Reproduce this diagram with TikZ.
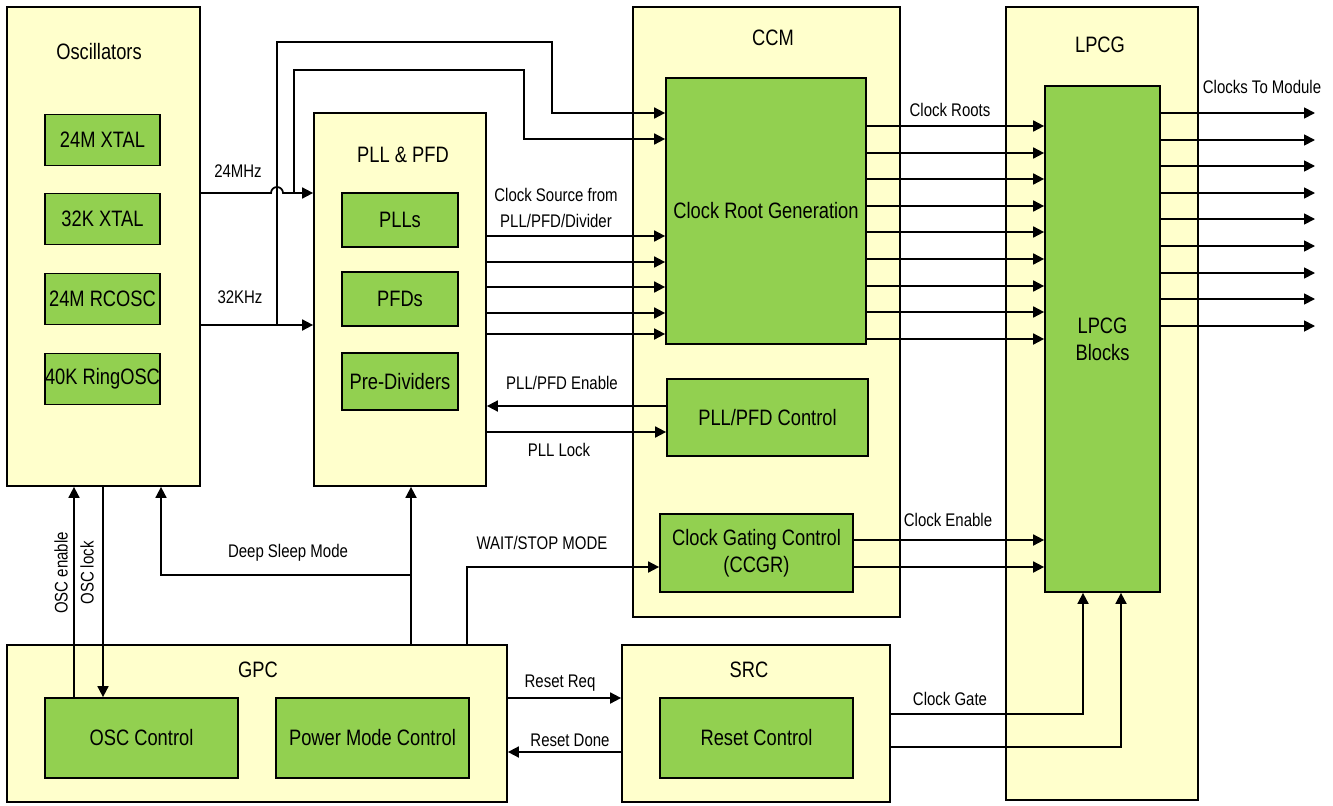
\documentclass[tikz,border=0pt]{standalone}
\usepackage{fontspec}
\setmainfont{Liberation Sans}[FakeStretch=0.82]
\usetikzlibrary{arrows.meta}
\definecolor{ylw}{HTML}{FFFFCC}
\definecolor{grn}{HTML}{92D050}

\begin{document}
\begin{tikzpicture}[x=0.2mm, y=-0.2mm, line width=1pt,
    Y/.style={rectangle, draw=black, fill=ylw, inner sep=0pt},
    G/.style={rectangle, draw=black, fill=grn, inner sep=0pt, align=center,
              minimum width=3.86cm, minimum height=1.6cm, font=\fontsize{12.7}{15.5}\selectfont},
    T/.style={inner sep=0pt, font=\fontsize{12.7}{15}\selectfont},
    L/.style={inner sep=0pt, align=center, font=\fontsize{10.4}{14.5}\selectfont},
    A/.style={-{Triangle[length=0.22cm, width=0.22cm]}}]

    \useasboundingbox (0,0) rectangle (1333,805);

    % Blocchi gialli
    \node[Y, minimum width=3.86cm, minimum height=9.58cm] (osc) at (103.5,246.5) {};
    \node[Y, minimum width=3.44cm, minimum height=7.46cm] (pll) at (400,299.5) {};
    \node[Y, minimum width=5.34cm, minimum height=12.2cm] (ccm) at (766.5,312) {};
    \node[Y, minimum width=3.84cm, minimum height=15.86cm] (lpcg) at (1102,403.5) {};
    \node[Y, minimum width=10cm, minimum height=3.14cm] (gpc) at (257,723.5) {};
    \node[Y, minimum width=5.36cm, minimum height=3.14cm] (src) at (756,723.5) {};

    \node[T] at (99,52) {Oscillators};
    \node[T] at (403,155) {PLL \& PFD};
    \node[T] at (773,38) {CCM};
    \node[T] at (1100,45) {LPCG};
    \node[T] at (258,670) {GPC};
    \node[T] at (749,670) {SRC};

    % Blocchi verdi
    \node[G, minimum width=2.3cm, minimum height=1.02cm] (xtal24) at (102.5,140) {24M XTAL};
    \node[G, minimum width=2.3cm, minimum height=1.02cm] (xtal32) at (102.5,219) {32K XTAL};
    \node[G, minimum width=2.3cm, minimum height=1.02cm] (rcosc) at (102.5,299) {24M RCOSC};
    \node[G, minimum width=2.3cm, minimum height=1.02cm] (ring) at (102.5,379) {40K RingOSC};
    \node[G, minimum width=2.32cm, minimum height=1.08cm] (plls) at (400,220) {PLLs};
    \node[G, minimum width=2.32cm, minimum height=1.08cm] (pfds) at (400,299) {PFDs};
    \node[G, minimum width=2.32cm, minimum height=1.14cm] (prediv) at (400,381.5) {Pre-Dividers};
    \node[G, minimum width=4cm, minimum height=5.32cm] (crg) at (766,211) {Clock Root Generation};
    \node[G, minimum width=4.02cm, minimum height=1.54cm] (pllctl) at (767.5,417.5) {PLL/PFD Control};
    \node[G, minimum height=1.56cm] (ccg) at (756.5,553) {Clock Gating Control\\(CCGR)};
    \node[G, minimum width=2.3cm, minimum height=10.12cm] (lpcgb) at (1102.5,339) {LPCG\\Blocks};
    \node[G] (oscctl) at (141.5,738) {OSC Control};
    \node[G] (pmc) at (372.5,738) {Power Mode Control};
    \node[G] (rstctl) at (756.5,738) {Reset Control};

    % Clock da oscillatori
    \coordinate (j32) at (277,325);
    \coordinate (j24) at (294,193);
    \draw[A] (osc.east |- 0,193) -- (271,193)
          arc[start angle=180, end angle=0, radius=0.12cm] -- (pll.west |- 0,193);
    \draw[A] (osc.east |- 0,325) -- (pll.west |- 0,325);
    \draw[A] (j32) |- (552,42) |- (crg.west |- 0,113);
    \draw[A] (j24) |- (524,70) |- (crg.west |- 0,139);
    \node[L] at (238,171) {24MHz};
    \node[L] at (240,297) {32KHz};

    % Sorgenti PLL/PFD verso CCM
    \foreach \y in {236,262,287,313,334} {
      \draw[A] (pll.east |- 0,\y) -- (crg.west |- 0,\y);
    }
    \node[L] at (556,208) {Clock Source from\\PLL/PFD/Divider};
    \draw[A] (pllctl.west |- 0,406) -- (pll.east |- 0,406);
    \draw[A] (pll.east |- 0,432) -- (pllctl.west |- 0,432);
    \node[L] at (562,383) {PLL/PFD Enable};
    \node[L] at (559,450) {PLL Lock};

    % Clock roots e uscite
    \foreach \y in {126,153,179,206,232,259,286,312,339} {
      \draw[A] (crg.east |- 0,\y) -- (lpcgb.west |- 0,\y);
    }
    \foreach \y in {113,140,166,193,219,246,273,299,326} {
      \draw[A] (lpcgb.east |- 0,\y) -- (1315,\y);
    }
    \node[L] at (950,110) {Clock Roots};
    \node[L] at (1262,87) {Clocks To Module};

    % Clock gating
    \draw[A] (ccg.east |- 0,540) -- (lpcgb.west |- 0,540);
    \draw[A] (ccg.east |- 0,567) -- (lpcgb.west |- 0,567);
    \node[L] at (948,520) {Clock Enable};
    \draw[A] (gpc.north -| 467,0) |- (ccg.west |- 0,567);
    \node[L] at (542,543) {WAIT/STOP MODE};

    % GPC
    \coordinate (jds) at (411,575);
    \draw[A] (gpc.north -| 411,0) -- (pll.south -| 411,0);
    \draw[A] (jds) -| (osc.south -| 161,0);
    \node[L] at (288,553) {Deep Sleep Mode};
    \draw[A] (oscctl.north -| 74,0) -- (osc.south -| 74,0);
    \draw[A] (osc.south -| 103,0) -- (oscctl.north -| 103,0);
    \node[L, rotate=90] at (61,573) {OSC enable};
    \node[L, rotate=90] at (87,573) {OSC lock};

    % SRC
    \draw[A] (gpc.east |- 0,698) -- (src.west |- 0,698);
    \draw[A] (src.west |- 0,752) -- (gpc.east |- 0,752);
    \node[L] at (560,683) {Reset Req};
    \node[L] at (570,740) {Reset Done};
    \draw[A] (src.east |- 0,714) -| (lpcgb.south -| 1083,0);
    \draw[A] (src.east |- 0,747) -| (lpcgb.south -| 1121,0);
    \node[L] at (950,699) {Clock Gate};
  \end{tikzpicture}
\end{document}
